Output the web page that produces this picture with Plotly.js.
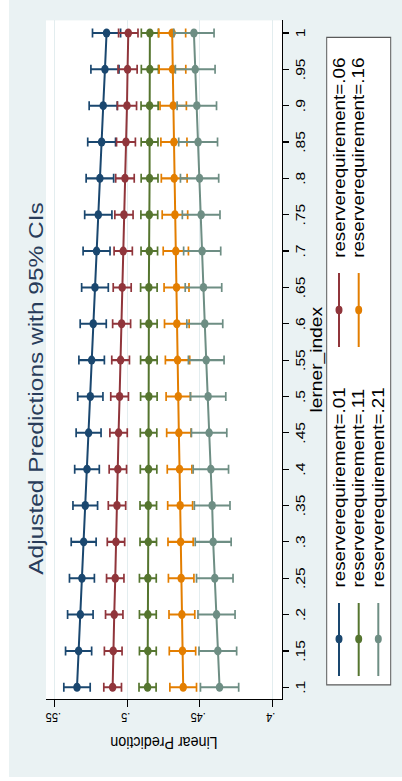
<!DOCTYPE html>
<html><head><meta charset="utf-8">
<script src="https://cdn.plot.ly/plotly-3.0.1.min.js"></script>
<style>
html,body{margin:0;padding:0;background:#ffffff;overflow:hidden;width:402px;height:781px;}
#chart{position:absolute;left:0;top:0;width:648px;height:393px;transform-origin:0 0;
  transform:translate(9px,777px) rotate(-90deg) scaleX(1.19907);}
</style></head>
<body><div id="chart"></div>
<script>
// ---- data ----
var lerner = [0.1,0.15,0.2,0.25,0.3,0.35,0.4,0.45,0.5,0.55,0.6,0.65,0.7,0.75,0.8,0.85,0.9,0.95,1];
var lernerLabels = ['.1','.15','.2','.25','.3','.35','.4','.45','.5','.55','.6','.65','.7','.75','.8','.85','.9','.95','1'];
var predTicks = [0.4,0.45,0.5,0.55];
var predLabels = ['.4','.45','.5','.55'];
var seriesNames = ['reserverequirement=.01','reserverequirement=.06','reserverequirement=.11','reserverequirement=.16','reserverequirement=.21'];

var rr01 = [0.5348,0.5337,0.5325,0.5314,0.5302,0.5291,0.5279,0.5268,0.5256,0.5247,0.5236,0.5224,0.5213,0.5201,0.5190,0.5178,0.5167,0.5155,0.5144];
var ci01 = [0.0091,0.0090,0.0088,0.0086,0.0086,0.0085,0.0085,0.0086,0.0087,0.0088,0.0090,0.0092,0.0093,0.0094,0.0095,0.0096,0.0097,0.0097,0.0097];
var rr06 = [0.5102,0.5098,0.5091,0.5084,0.5079,0.5072,0.5066,0.5061,0.5054,0.5047,0.5040,0.5036,0.5029,0.5024,0.5017,0.5010,0.5003,0.4999,0.4994];
var ci06 = [0.0061,0.0061,0.0060,0.0060,0.0060,0.0060,0.0060,0.0060,0.0061,0.0061,0.0062,0.0062,0.0063,0.0063,0.0064,0.0065,0.0066,0.0066,0.0067];
var rr11 = [0.4861,0.4859,0.4859,0.4859,0.4856,0.4856,0.4854,0.4854,0.4852,0.4852,0.4852,0.4852,0.4849,0.4849,0.4847,0.4847,0.4847,0.4845,0.4845];
var ci11 = [0.0059,0.0058,0.0058,0.0058,0.0057,0.0057,0.0057,0.0057,0.0057,0.0057,0.0057,0.0057,0.0057,0.0058,0.0058,0.0058,0.0059,0.0059,0.0059];
var rr16 = [0.4615,0.4620,0.4624,0.4629,0.4633,0.4636,0.4640,0.4645,0.4649,0.4654,0.4659,0.4661,0.4666,0.4672,0.4677,0.4679,0.4684,0.4689,0.4691];
var ci16 = [0.0092,0.0091,0.0089,0.0088,0.0087,0.0086,0.0085,0.0084,0.0084,0.0084,0.0085,0.0086,0.0087,0.0088,0.0089,0.0090,0.0091,0.0092,0.0093];
var rr21 = [0.4364,0.4376,0.4385,0.4397,0.4408,0.4415,0.4424,0.4436,0.4443,0.4456,0.4466,0.4475,0.4484,0.4491,0.4502,0.4512,0.4521,0.4532,0.4541];
var ci21 = [0.0132,0.0130,0.0128,0.0126,0.0124,0.0123,0.0122,0.0122,0.0122,0.0123,0.0124,0.0126,0.0128,0.0130,0.0132,0.0134,0.0136,0.0137,0.0139];

var seriesValues = [rr01, rr06, rr11, rr16, rr21];
var seriesCI = [ci01, ci06, ci11, ci16, ci21];

// ---- styles / layout geometry ----
var colors = ['#1a476f','#90353b','#55752f','#e37e00','#6e8e84'];
var FONT = 'Liberation Sans, Arial, sans-serif';
var W = 648, H = 393;
var M = {l:65, r:17, t:37, b:120};
var pw = W - M.l - M.r, ph = H - M.t - M.b;
function xp(x){ return (x - M.l) / pw; }
function yp(y){ return (M.t + ph - y) / ph; }

var legBox = {x0:76.9, x1:616.9, y0:317.7, y1:381.7};
var colLine = [[84.2,145.1],[358.6,420.3]];
var colMarker = [115.1, 389.5];
var colText = [156.0, 431.2];
var rowY = [330.0, 349.7, 369.3];

var traces = seriesValues.map(function(vals, i){
  return {
    type:'scatter', mode:'lines+markers',
    x: lerner, y: vals, name: seriesNames[i],
    line:{color:colors[i], width:2},
    marker:{color:colors[i], size:7.5},
    error_y:{type:'data', array:seriesCI[i], visible:true, color:colors[i], thickness:1.7, width:3.75},
    showlegend:false, hoverinfo:'skip'
  };
});

var shapes = [{
  type:'rect', xref:'paper', yref:'paper', layer:'above',
  x0:xp(legBox.x0), x1:xp(legBox.x1), y0:yp(legBox.y0), y1:yp(legBox.y1),
  fillcolor:'#ffffff', line:{color:'#5a5a5a', width:1}
}];
var annotations = [];
seriesNames.forEach(function(nm, i){
  var c = i % 2, r = Math.floor(i / 2);
  var yy = yp(rowY[r]);
  shapes.push({type:'line', xref:'paper', yref:'paper', layer:'above',
    x0:xp(colLine[c][0]), x1:xp(colLine[c][1]), y0:yy, y1:yy,
    line:{color:colors[i], width:2}});
  shapes.push({type:'circle', xref:'paper', yref:'paper', layer:'above',
    xsizemode:'pixel', ysizemode:'pixel', xanchor:xp(colMarker[c]), yanchor:yy,
    x0:-3.5, x1:3.5, y0:-3.5, y1:3.5, fillcolor:colors[i], line:{width:0}});
  annotations.push({xref:'paper', yref:'paper', x:xp(colText[c]), y:yy,
    xanchor:'left', yanchor:'middle', showarrow:false, text:nm,
    font:{family:FONT, size:15.7, color:'#000000'}});
});

var layout = {
  width:W, height:H, margin:M, autosize:false,
  paper_bgcolor:'#eaf2f3', plot_bgcolor:'#ffffff',
  showlegend:false,
  title:{text:'Adjusted Predictions with 95% CIs', x:0.5, xref:'container', xanchor:'center',
         y:1 - 26.5/H, yref:'container', yanchor:'middle',
         font:{family:FONT, size:20.4, color:'#283c5a'}},
  xaxis:{range:[0.0838,1.0173], tickmode:'array', tickvals:lerner, ticktext:lernerLabels,
         showgrid:false, zeroline:false, showline:true, linecolor:'#000', linewidth:1,
         ticks:'outside', ticklen:6, tickwidth:1, tickcolor:'#000',
         tickfont:{family:'Liberation Sans Narrow, '+FONT, size:13, color:'#000'},
         title:{text:'lerner_index', font:{family:FONT, size:16, color:'#000'}, standoff:3},
         automargin:false},
  yaxis:{range:[0.3933,0.5562], tickmode:'array', tickvals:predTicks, ticktext:predLabels,
         tickangle:-90, showgrid:true, gridcolor:'#e3edef', gridwidth:1, zeroline:false,
         showline:true, linecolor:'#000', linewidth:1,
         ticks:'outside', ticklen:6, tickwidth:1, tickcolor:'#000',
         tickfont:{family:FONT, size:11, color:'#000'},
         title:{text:'Linear Prediction', font:{family:FONT, size:14.3, color:'#000'}, standoff:5.5},
         automargin:false},
  shapes:shapes, annotations:annotations
};

Plotly.newPlot('chart', traces, layout, {staticPlot:true, displayModeBar:false});
</script></body></html>
